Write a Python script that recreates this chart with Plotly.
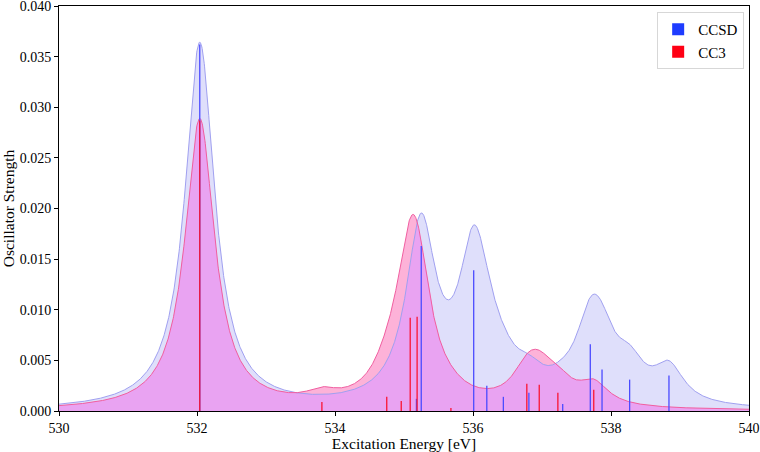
import numpy as np
import plotly.graph_objects as go

# Stick spectra (excitation energy in eV, oscillator strength)
ccsd_energy = [532.04, 535.18, 535.25, 536.01, 536.20, 536.44, 536.81, 537.30, 537.70, 537.87, 538.27, 538.84]
ccsd_strength = [0.0362, 0.0012, 0.0163, 0.0139, 0.0025, 0.0014, 0.0018, 0.0007, 0.0066, 0.0041, 0.0031, 0.0035]

cc3_energy = [532.04, 533.81, 534.75, 534.96, 535.09, 535.19, 535.68, 536.78, 536.96, 537.23, 537.75]
cc3_strength = [0.0287, 0.0009, 0.0014, 0.0010, 0.0092, 0.0093, 0.0003, 0.0027, 0.0026, 0.0018, 0.0021]

hwhm = 0.26  # Lorentzian broadening half-width (eV)
x_ticks = [530, 532, 534, 536, 538, 540]
y_ticks = [0.000, 0.005, 0.010, 0.015, 0.020, 0.025, 0.030, 0.035, 0.040]

grid = np.linspace(530, 540, 2001)


def broaden(energies, strengths):
    e = np.asarray(energies)[:, None]
    f = np.asarray(strengths)[:, None]
    return (f * hwhm**2 / (hwhm**2 + (grid[None, :] - e) ** 2)).sum(axis=0)


env_ccsd = broaden(ccsd_energy, ccsd_strength)
env_cc3 = broaden(cc3_energy, cc3_strength)
env_both = np.minimum(env_ccsd, env_cc3)


def sticks(energies, strengths):
    xs, ys = [], []
    for e, f in zip(energies, strengths):
        xs += [e, e, None]
        ys += [0, f, None]
    return xs, ys


fig = go.Figure()
fig.add_trace(go.Scatter(x=grid, y=env_ccsd, fill="tozeroy", mode="lines",
                         fillcolor="rgb(223,223,251)", line=dict(color="rgba(0,0,0,0)", width=0),
                         showlegend=False, hoverinfo="skip"))
fig.add_trace(go.Scatter(x=grid, y=env_cc3, fill="tozeroy", mode="lines",
                         fillcolor="rgb(253,178,216)", line=dict(color="rgba(0,0,0,0)", width=0),
                         showlegend=False, hoverinfo="skip"))
fig.add_trace(go.Scatter(x=grid, y=env_both, fill="tozeroy", mode="lines",
                         fillcolor="rgb(233,163,242)", line=dict(color="rgba(0,0,0,0)", width=0),
                         showlegend=False, hoverinfo="skip"))
fig.add_trace(go.Scatter(x=grid, y=env_ccsd, mode="lines",
                         line=dict(color="rgb(160,160,240)", width=1),
                         showlegend=False, hoverinfo="skip"))
fig.add_trace(go.Scatter(x=grid, y=env_cc3, mode="lines",
                         line=dict(color="rgb(240,95,160)", width=1),
                         showlegend=False, hoverinfo="skip"))

sx, sy = sticks(ccsd_energy, ccsd_strength)
fig.add_trace(go.Scatter(x=sx, y=sy, mode="lines", line=dict(color="rgb(75,75,255)", width=1.3),
                         showlegend=False))
sx, sy = sticks(cc3_energy, cc3_strength)
fig.add_trace(go.Scatter(x=sx, y=sy, mode="lines", line=dict(color="rgb(250,20,50)", width=1.3),
                         showlegend=False))

# legend patches
fig.add_trace(go.Bar(x=[None], y=[None], name="CCSD", marker=dict(color="rgb(30,60,255)", line=dict(width=0))))
fig.add_trace(go.Bar(x=[None], y=[None], name="CC3", marker=dict(color="rgb(255,0,20)", line=dict(width=0))))

font = "Liberation Serif, DejaVu Serif, serif"
fig.update_layout(
    width=760, height=452,
    margin=dict(l=59, r=11, t=6, b=41),
    plot_bgcolor="white", paper_bgcolor="white",
    font=dict(family=font, size=14, color="black"),
    legend=dict(x=0.993, y=0.985, xanchor="right", yanchor="top",
                bgcolor="white", bordercolor="rgb(215,215,215)", borderwidth=1,
                font=dict(size=15), tracegroupgap=2, itemwidth=30),
    showlegend=True,
)
fig.update_xaxes(range=[530, 540], tickvals=x_ticks, ticktext=[str(t) for t in x_ticks],
                 ticks="outside", ticklen=4, tickcolor="black", showgrid=False, zeroline=False,
                 showline=True, linecolor="black", linewidth=1, mirror=True, automargin=False,
                 ticklabeloverflow="allow", tickfont=dict(size=14),
                 title=dict(text="Excitation Energy [eV]", standoff=6, font=dict(size=15.5)))
fig.update_yaxes(range=[0, 0.04], tickvals=y_ticks, ticktext=[f"{t:.3f}" for t in y_ticks],
                 ticks="outside", ticklen=4, tickcolor="black", showgrid=False, zeroline=False,
                 showline=True, linecolor="black", linewidth=1, mirror=True, automargin=False,
                 ticklabeloverflow="allow", tickfont=dict(size=14),
                 title=dict(text="Oscillator Strength", standoff=3, font=dict(size=15.5)))

fig.write_html("out.html", config={"displayModeBar": False},
               post_script="document.body.style.margin='0';")
